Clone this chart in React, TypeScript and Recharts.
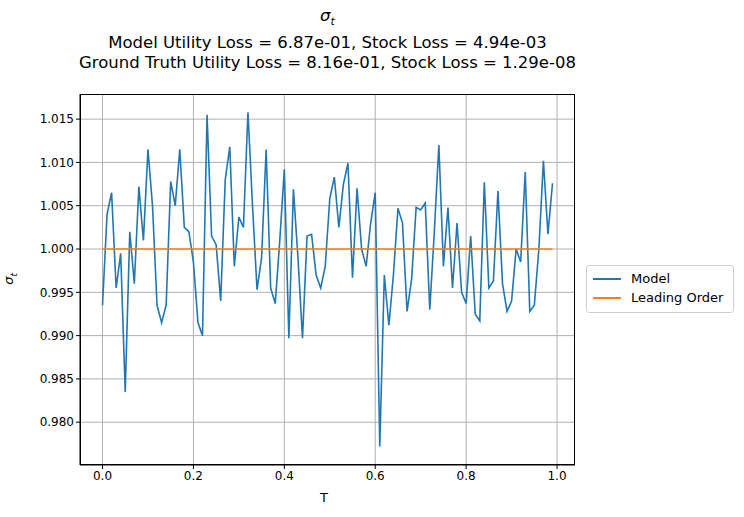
import { LineChart, Line, XAxis, YAxis, CartesianGrid } from "recharts";

const tValues = Array.from({ length: 100 }, (_, i) => i / 100);
const modelValues = [
  0.9935, 1.004, 1.0065, 0.9955, 0.9995, 0.9835, 1.002, 0.996, 1.0072, 1.001,
  1.0115, 1.005, 0.9935, 0.9915, 0.9935, 1.0078, 1.005, 1.0115, 1.0025, 1.002,
  0.9985, 0.9915, 0.99, 1.0155, 1.0015, 1.0005, 0.994, 1.008, 1.0118, 0.998,
  1.0037, 1.0025, 1.0158, 1.005, 0.9953, 0.999, 1.0115, 0.9955, 0.9937, 1.001,
  1.0092, 0.9897, 1.0069, 0.999, 0.9897, 1.0015, 1.0017, 0.997, 0.9955, 0.998,
  1.0058, 1.0083, 1.0025, 1.0075, 1.0099, 0.9967, 1.007, 1.0, 0.998, 1.003,
  1.0065, 0.9772, 0.997, 0.9912, 0.997, 1.0047, 1.003, 0.9928, 0.9965, 1.0048,
  1.0045, 1.0053, 0.993, 1.002, 1.012, 0.998, 1.0048, 0.9955, 1.003, 0.995,
  0.9937, 1.0015, 0.9925, 0.9917, 1.0077, 0.9955, 0.9963, 1.0067, 0.996, 0.9928,
  0.994, 1.0, 0.9985, 1.0089, 0.9928, 0.9935, 1.0, 1.0102, 1.0017, 1.0076,
];
const leadingOrder = tValues.map(() => 1.0);
const xTicks = [0, 0.2, 0.4, 0.6, 0.8, 1.0];
const yTicks = [0.98, 0.985, 0.99, 0.995, 1.0, 1.005, 1.01, 1.015];

const data = tValues.map((t, i) => ({ t, model: modelValues[i], lead: leadingOrder[i] }));

const font = "DejaVu Sans, sans-serif";
const tick = { fill: "#000", fontSize: 12, fontFamily: font };

export default function App() {
  return (
    <div style={{ position: "absolute", left: 0, top: 0, width: 744, height: 517, background: "#fff", fontFamily: font }}>
      <div style={{ position: "absolute", left: 0, width: 655, top: 6, textAlign: "center", fontSize: 16.5, lineHeight: "20.5px", color: "#000" }}>
        <div><i>σ</i><sub style={{ fontSize: 11 }}><i>t</i></sub></div>
        <div>Model Utility Loss = 6.87e-01, Stock Loss = 4.94e-03</div>
        <div>Ground Truth Utility Loss = 8.16e-01, Stock Loss = 1.29e-08</div>
      </div>
      <LineChart width={744} height={517} data={data} margin={{ top: 94, right: 169, bottom: 22, left: 20 }}>
        <CartesianGrid stroke="#b0b0b0" strokeWidth={1} horizontalValues={yTicks} verticalValues={xTicks} />
        <XAxis dataKey="t" type="number" domain={[-0.0495, 1.0395]} ticks={xTicks} height={30}
          tickFormatter={(v) => v.toFixed(1)} tick={tick} tickSize={4} stroke="#000" allowDataOverflow />
        <YAxis type="number" domain={[0.97506, 1.0179]} ticks={yTicks} width={60}
          tickFormatter={(v) => v.toFixed(3)} tick={tick} tickSize={4} stroke="#000" allowDataOverflow />
        <Line dataKey="model" stroke="#1f77b4" strokeWidth={1.6} dot={false} isAnimationActive={false} />
        <Line dataKey="lead" stroke="#ff7f0e" strokeWidth={1.6} dot={false} isAnimationActive={false} />
      </LineChart>
      <div style={{ position: "absolute", left: 80, top: 94, width: 495, height: 371, border: "1px solid #000", boxSizing: "border-box", pointerEvents: "none" }} />
      <div style={{ position: "absolute", left: 320, top: 490, fontSize: 13 }}>T</div>
      <div style={{ position: "absolute", left: 4, top: 270, fontSize: 13, transform: "rotate(-90deg)" }}>
        <i>σ</i><sub style={{ fontSize: 9 }}><i>t</i></sub>
      </div>
      <div style={{ position: "absolute", left: 586, top: 265, width: 148, height: 48, border: "1px solid #d0d0d0", borderRadius: 3, boxSizing: "border-box", fontSize: 13 }}>
        <div style={{ display: "flex", alignItems: "center", marginTop: 5, marginLeft: 6 }}>
          <span style={{ display: "inline-block", width: 28, height: 2, background: "#1f77b4", marginRight: 10 }} />Model
        </div>
        <div style={{ display: "flex", alignItems: "center", marginTop: 4, marginLeft: 6 }}>
          <span style={{ display: "inline-block", width: 28, height: 2, background: "#ff7f0e", marginRight: 10 }} />Leading Order
        </div>
      </div>
    </div>
  );
}
